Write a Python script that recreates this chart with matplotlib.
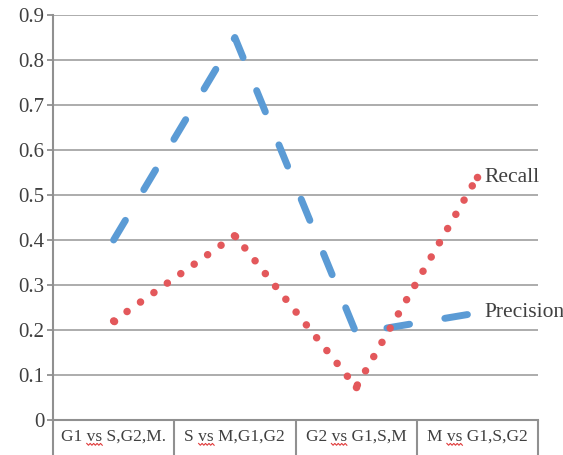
import matplotlib
matplotlib.use("Agg")
import matplotlib.pyplot as plt
import numpy as np
from matplotlib.lines import Line2D

categories = ["G1 vs S,G2,M.", "S vs M,G1,G2", "G2 vs G1,S,M", "M vs G1,S,G2"]
precision = [0.40, 0.85, 0.193, 0.238]
recall = [0.22, 0.41, 0.073, 0.54]
yticks = [0, 0.1, 0.2, 0.3, 0.4, 0.5, 0.6, 0.7, 0.8, 0.9]

plt.rcParams['font.family'] = ['Liberation Serif', 'DejaVu Serif']
fig = plt.figure(figsize=(5.63, 4.55), dpi=100)
ax = fig.add_axes([53/563, 35/455, (538-53)/563, (420-15)/455])

x = np.arange(len(categories)) + 0.5
blue = '#5b9bd5'
red = '#e3585b'
ax.plot(x, precision, color=blue, lw=5, dashes=(3.3, 5.15), dash_capstyle='round',
        solid_capstyle='round', zorder=3)
ax.plot(x, recall, color=red, lw=5.4, dashes=(0.01, 2.18), dash_capstyle='round', zorder=3)
ax.plot(x, recall, linestyle='none', marker='o', markersize=5.4, color=red,
        markeredgewidth=0, zorder=3)

ax.annotate("Recall", (x[-1], recall[-1]), xytext=(5, 0), textcoords='offset points',
            va='center', ha='left', fontsize=15.5, color='#404040', annotation_clip=False)
ax.annotate("Precision", (x[-1], precision[-1]), xytext=(5, 0), textcoords='offset points',
            va='center', ha='left', fontsize=15.5, color='#404040', annotation_clip=False)

ax.set_xlim(0, 4)
ax.set_ylim(0, 0.9)
ax.set_yticks(yticks)
ax.set_yticklabels([f"{v:g}" for v in yticks], fontsize=15, color='#404040')
ax.yaxis.grid(True, color='#a6a6a6', lw=1.3)
ax.set_axisbelow(True)

ax.set_xticks(np.arange(len(categories) + 1))
ax.set_xticklabels([])
ax.set_xticks(x, minor=True)
ax.set_xticklabels(categories, minor=True, fontsize=12.5, color='#404040')
ax.tick_params(axis='x', which='major', length=26, width=1.5, color='#909090', direction='out')
ax.tick_params(axis='x', which='minor', length=0, pad=6)
ax.tick_params(axis='y', length=4, width=1.3, color='#909090', pad=2)

for s in ['top', 'right']:
    ax.spines[s].set_visible(False)
for s in ['left', 'bottom']:
    ax.spines[s].set_color('#909090')
    ax.spines[s].set_linewidth(1.5)

# spell-check style wavy underline under "vs"
fig.canvas.draw()
renderer = fig.canvas.get_renderer()
def text_width(s, fp):
    w, h, d = renderer.get_text_width_height_descent(s, fp, ismath=False)
    return w
for lab in ax.get_xticklabels(minor=True):
    txt = lab.get_text()
    if " vs " not in txt:
        continue
    bb = lab.get_window_extent(renderer)
    fp = lab.get_fontproperties()
    prefix = txt.split(" vs ")[0] + " "
    x0 = bb.x0 + text_width(prefix, fp)
    x1 = x0 + text_width("vs", fp)
    _, _, desc = renderer.get_text_width_height_descent("vs", fp, ismath=False)
    y0 = bb.y0 + desc * 0.45
    n = int((x1 - x0) / 1.6) + 1
    xs = np.linspace(x0, x1, n)
    ys = y0 + np.where(np.arange(n) % 2 == 0, 0.9, -0.9)
    fig.add_artist(Line2D(xs / fig.bbox.width, ys / fig.bbox.height,
                          transform=fig.transFigure, color='#e03a3a', lw=0.8))

fig.savefig("out.png", dpi=100)
